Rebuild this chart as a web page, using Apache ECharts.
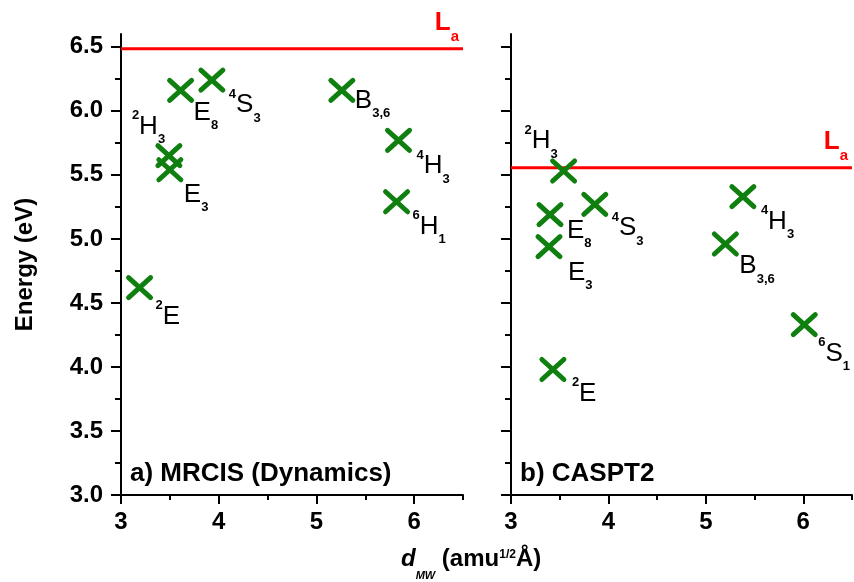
<!DOCTYPE html>
<html><head><meta charset="utf-8">
<script src="https://cdn.jsdelivr.net/npm/echarts@6/dist/echarts.min.js"></script>
<style>html,body{margin:0;padding:0;background:#fff}#c{width:854px;height:582px}</style>
</head><body><div id="c"></div>
<script>
// ---- data ----
const xRange = [3, 6.5];
const yRange = [3, 6.6];
const xTicks = [3, 4, 5, 6];
const xMinorTicks = [3.5, 4.5, 5.5, 6.5];
const yTicks = [3.0, 3.5, 4.0, 4.5, 5.0, 5.5, 6.0, 6.5];
const yMinorTicks = [3.25, 3.75, 4.25, 4.75, 5.25, 5.75, 6.25];

const mrcisLabels = ['{sup|2}{m|E}', '{sup|2}{m|H}{sub|3}', '{m|E}{sub|3}', '{m|E}{sub|8}',
                     '{sup|4}{m|S}{sub|3}', '{m|B}{sub|3,6}', '{sup|4}{m|H}{sub|3}', '{sup|6}{m|H}{sub|1}'];
const mrcisX = [3.19, 3.49, 3.50, 3.61, 3.93, 5.26, 5.84, 5.82];
const mrcisY = [4.62, 5.65, 5.54, 6.16, 6.24, 6.16, 5.77, 5.29];

const casptLabels = ['{sup|2}{m|H}{sub|3}', '{m|E}{sub|8}', '{sup|4}{m|S}{sub|3}', '{m|E}{sub|3}',
                     '{sup|4}{m|H}{sub|3}', '{m|B}{sub|3,6}', '{sup|6}{m|S}{sub|1}', '{sup|2}{m|E}'];
const casptX = [3.54, 3.40, 3.86, 3.39, 5.38, 5.20, 6.01, 3.43];
const casptY = [5.53, 5.19, 5.27, 4.94, 5.33, 4.96, 4.33, 3.98];

const laEnergy = [6.485, 5.556];
const panelTitles = ['a) MRCIS (Dynamics)', 'b) CASPT2'];
const yAxisTitle = 'Energy (eV)';

// ---- layout / style (label placement relative to each cross, px) ----
const mrcisLabelOffset = [[16, 14], [-37, -44], [14, 10], [13, 7], [17, 10], [13, -5], [18, 11], [16, 10]];
const casptLabelOffset = [[-39, -45], [17, 1], [17, 9], [19, 11], [18, 10], [14, 7], [14, 14], [19, 9]];

const FONT = 'Liberation Sans, Arial, sans-serif';
const GREEN = '#0f7f0f';
const RED = '#ff0000';
const RICH = {
  m:   { fontFamily: FONT, fontSize: 26, lineHeight: 30, fill: '#000' },
  sup: { fontFamily: FONT, fontSize: 13, fontWeight: 'bold', lineHeight: 30, fill: '#000', padding: [0, 0, 22, 0] },
  sub: { fontFamily: FONT, fontSize: 13, fontWeight: 'bold', lineHeight: 30, fill: '#000', padding: [26, 0, 0, 0] }
};
const LA_RICH = {
  L: { fontFamily: FONT, fontSize: 26, fontWeight: 'bold', lineHeight: 30, fill: RED },
  a: { fontFamily: FONT, fontSize: 15, fontWeight: 'bold', lineHeight: 30, fill: RED, padding: [28, 0, 0, 0] }
};

const grids = [
  { left: 121, top: 34, width: 342, height: 461 },
  { left: 511, top: 34, width: 341, height: 461 }
];

function xAxes(gi) {
  return [{
    gridIndex: gi, type: 'value', min: xRange[0], max: xRange[1], position: 'bottom',
    axisLine: { show: true, onZero: false, lineStyle: { color: '#000', width: 2 } },
    axisTick: { show: true, customValues: xTicks, length: 9, lineStyle: { color: '#000', width: 2 } },
    axisLabel: { show: true, customValues: xTicks, margin: 15, formatter: v => String(v),
                 fontFamily: FONT, fontSize: 24, fontWeight: 'bold', color: '#000' },
    splitLine: { show: false }
  }, {
    gridIndex: gi, type: 'value', min: xRange[0], max: xRange[1], position: 'bottom',
    axisLine: { show: false, onZero: false },
    axisTick: { show: true, customValues: xMinorTicks, length: 5, lineStyle: { color: '#000', width: 2 } },
    axisLabel: { show: false }, splitLine: { show: false }
  }];
}
function yAxes(gi) {
  return [{
    gridIndex: gi, type: 'value', min: yRange[0], max: yRange[1], position: 'left',
    name: gi === 0 ? yAxisTitle : '', nameLocation: 'middle', nameGap: 84,
    nameTextStyle: { fontFamily: FONT, fontSize: 24, fontWeight: 'bold', color: '#000' },
    axisLine: { show: true, onZero: false, lineStyle: { color: '#000', width: 2 } },
    axisTick: { show: true, customValues: yTicks, length: 10, lineStyle: { color: '#000', width: 2 } },
    axisLabel: { show: gi === 0, customValues: yTicks, margin: 18, formatter: v => v.toFixed(1),
                 fontFamily: FONT, fontSize: 24, fontWeight: 'bold', color: '#000' },
    splitLine: { show: false }
  }, {
    gridIndex: gi, type: 'value', min: yRange[0], max: yRange[1], position: 'left',
    axisLine: { show: false, onZero: false },
    axisTick: { show: true, customValues: yMinorTicks, length: 6, lineStyle: { color: '#000', width: 2 } },
    axisLabel: { show: false }, splitLine: { show: false }
  }];
}

function crossSeries(gi, xs, ys, labels, offsets) {
  return {
    type: 'custom', xAxisIndex: gi * 2, yAxisIndex: gi * 2, z: 5,
    data: xs.map((x, i) => [x, ys[i], i]),
    renderItem(params, api) {
      const i = api.value(2);
      const p = api.coord([api.value(0), api.value(1)]);
      const hx = 11, hy = 10;
      const ls = { stroke: GREEN, lineWidth: 5, lineCap: 'round' };
      const off = offsets[i];
      return {
        type: 'group', children: [
          { type: 'line', shape: { x1: p[0] - hx, y1: p[1] - hy, x2: p[0] + hx, y2: p[1] + hy }, style: ls },
          { type: 'line', shape: { x1: p[0] - hx, y1: p[1] + hy, x2: p[0] + hx, y2: p[1] - hy }, style: ls },
          { type: 'text', x: p[0] + off[0], y: p[1] + off[1],
            style: { text: labels[i], rich: RICH, align: 'left', verticalAlign: 'top' } }
        ]
      };
    }
  };
}

function laSeries(gi) {
  return {
    type: 'custom', xAxisIndex: gi * 2, yAxisIndex: gi * 2, z: 4,
    data: [[xRange[1], laEnergy[gi]]],
    renderItem(params, api) {
      const y = api.value(1);
      const a = api.coord([xRange[0], y]);
      const b = api.coord([xRange[1], y]);
      return {
        type: 'group', children: [
          { type: 'line', shape: { x1: a[0], y1: a[1], x2: b[0], y2: b[1] }, style: { stroke: RED, lineWidth: 3 } },
          { type: 'text', x: b[0] - 4, y: b[1] - 11,
            style: { text: '{L|L}{a|a}', rich: LA_RICH, align: 'right', verticalAlign: 'bottom' } }
        ]
      };
    }
  };
}

const chart = echarts.init(document.getElementById('c'), null, { renderer: 'canvas' });
chart.setOption({
  animation: false,
  backgroundColor: '#fff',
  grid: grids,
  xAxis: [...xAxes(0), ...xAxes(1)],
  yAxis: [...yAxes(0), ...yAxes(1)],
  title: [
    { text: panelTitles[0], left: 130, top: 461, padding: 0,
      textStyle: { fontFamily: FONT, fontSize: 26, fontWeight: 'bold', color: '#000' } },
    { text: panelTitles[1], left: 520, top: 461, padding: 0,
      textStyle: { fontFamily: FONT, fontSize: 26, fontWeight: 'bold', color: '#000' } },
    { text: '{d|d}{mw|MW}{t| (amu}{s|1/2}{t|Å)}', left: 401, top: 545, padding: 0,
      textStyle: { rich: {
        d:  { fontFamily: FONT, fontSize: 24, fontWeight: 'bold', fontStyle: 'italic', color: '#000', lineHeight: 28 },
        mw: { fontFamily: FONT, fontSize: 11, fontWeight: 'bold', fontStyle: 'italic', color: '#000', lineHeight: 28, padding: [34, 0, 0, 0] },
        t:  { fontFamily: FONT, fontSize: 24, fontWeight: 'bold', color: '#000', lineHeight: 28 },
        s:  { fontFamily: FONT, fontSize: 12, fontWeight: 'bold', color: '#000', lineHeight: 28, padding: [0, 0, 8, 0] }
      } } }
  ],
  series: [
    laSeries(0), laSeries(1),
    crossSeries(0, mrcisX, mrcisY, mrcisLabels, mrcisLabelOffset),
    crossSeries(1, casptX, casptY, casptLabels, casptLabelOffset)
  ]
});
</script>
</body></html>
